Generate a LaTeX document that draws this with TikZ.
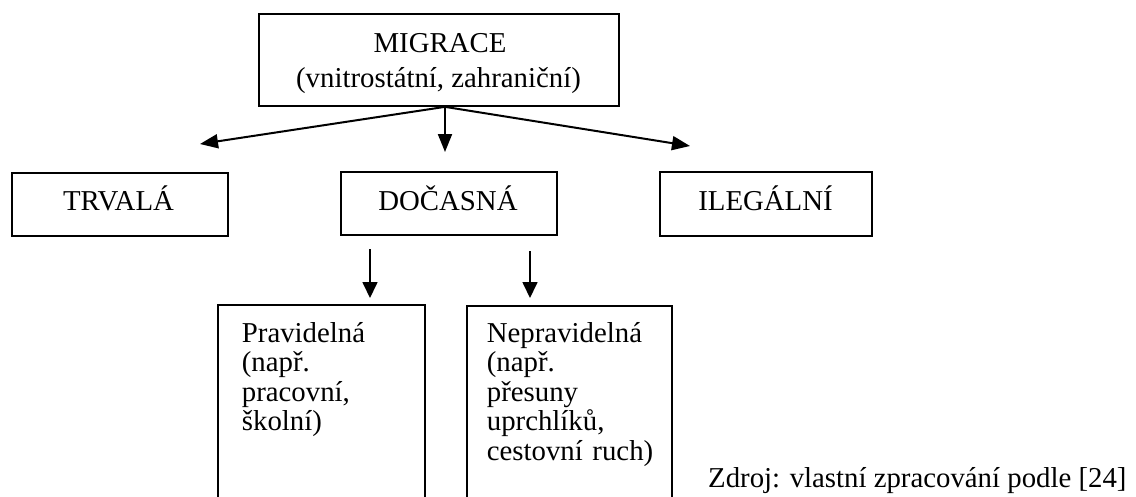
\documentclass[tikz,border=0pt]{standalone}
\usepackage{fontspec}
\setmainfont{Liberation Serif}
\usetikzlibrary{arrows.meta}
\begin{document}
\begin{tikzpicture}[x=1pt,y=-1pt,
  box/.style={draw, line width=1.7pt, inner sep=0pt, rectangle},
  txt/.style={inner sep=0pt, font=\fontsize{28.8pt}{29.6pt}\selectfont},
  arr/.style={line width=2pt, -{Triangle[length=18pt,width=14pt]}},
  arrlow/.style={line width=1.7pt, -{Triangle[length=16pt,width=15pt]}},
]
\useasboundingbox (0,0) rectangle (1136,496);
\clip (0,0) rectangle (1136,496);
% boxes
\node[box, minimum width=360pt, minimum height=92pt] (mig) at (439,60) {};
\node[box, minimum width=216pt, minimum height=63pt] (trv) at (120,204.5) {};
\node[box, minimum width=216pt, minimum height=63pt] (doc) at (449,203.5) {};
\node[box, minimum width=212pt, minimum height=64pt] (ile) at (766,204) {};
\node[box, minimum width=207pt, minimum height=255pt] (prav) at (321.5,432.5) {};
\node[box, minimum width=205pt, minimum height=254pt] (neprav) at (569.5,433) {};
% texts
\node[txt, anchor=base] (t1) at (440,52) {MIGRACE};
\node[txt, anchor=base] (t2) at (438.5,87.5) {(vnitrostátní, zahraniční)};
\node[txt, anchor=base] (t3) at (118.5,210) {TRVALÁ};
\node[txt, anchor=base] (t4) at (448,210) {DOČASNÁ};
\node[txt, anchor=base] (t5) at (765.5,210) {ILEGÁLNÍ};
\node[txt, anchor=base west, align=left, text width=180pt] (t6) at (241.7,342) {Pravidelná\\(např.\\pracovní,\\školní)};
\node[txt, anchor=base west, align=left, text width=180pt] (t7) at (486.7,342) {Nepravidelná\\(např.\\přesuny\\uprchlíků,\\cestovní ruch)};
\node[txt, anchor=base west] (src) at (708,487) {Zdroj: vlastní zpracování podle [24]};
% arrow end points
\coordinate (tipL) at (200,144);
\coordinate (tipM) at (445,152);
\coordinate (tipR) at (690,146);
\coordinate (s1) at (370,249);
\coordinate (e1) at (370,298);
\coordinate (s2) at (530,251);
\coordinate (e2) at (530,298);
% connectors
\draw[arr] ([xshift=6pt]mig.south) -- (tipL);
\draw[arr] ([xshift=6pt]mig.south) -- (tipM);
\draw[arr] ([xshift=6pt]mig.south) -- (tipR);
\draw[arrlow] (s1) -- (e1);
\draw[arrlow] (s2) -- (e2);
\end{tikzpicture}
\end{document}
